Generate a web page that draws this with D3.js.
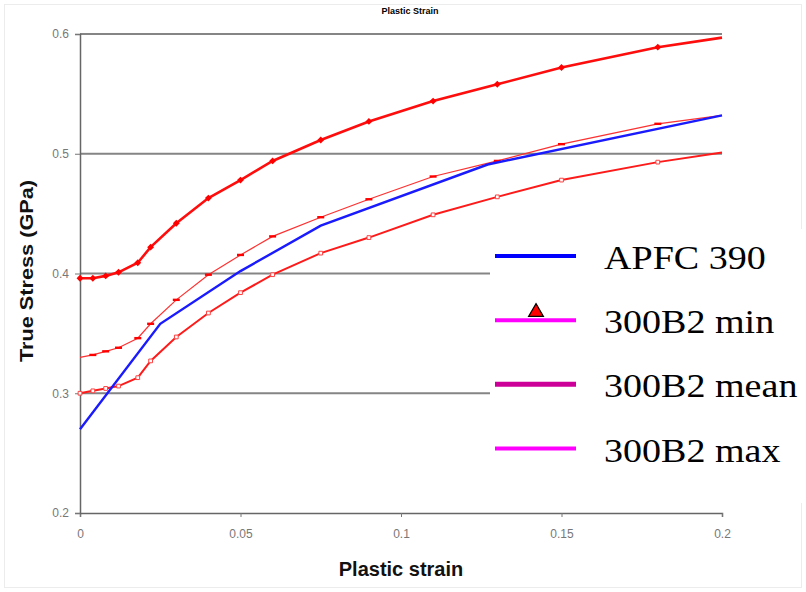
<!DOCTYPE html>
<html>
<head>
<meta charset="utf-8">
<script src="https://cdn.jsdelivr.net/npm/d3@7"></script>
<style>
  body { margin: 0; background: #fff; }
  svg { display: block; }
</style>
</head>
<body>
<div class="chart-container"></div>
<script>
// strain points shared by the three 300B2 curves
const strain = [0, 0.004, 0.008, 0.012, 0.018, 0.022, 0.03, 0.04, 0.05, 0.06, 0.075, 0.09, 0.11, 0.13, 0.15, 0.18, 0.2];
const stressMax = [0.396, 0.396, 0.398, 0.401, 0.409, 0.422, 0.442, 0.463, 0.478, 0.494, 0.5115, 0.527, 0.544, 0.558, 0.572, 0.589, 0.597];
const stressMean = [0.330, 0.332, 0.335, 0.338, 0.346, 0.358, 0.378, 0.399, 0.4155, 0.431, 0.447, 0.462, 0.481, 0.494, 0.508, 0.525, 0.532];
const stressMin = [0.300, 0.302, 0.304, 0.306, 0.313, 0.327, 0.347, 0.367, 0.384, 0.399, 0.417, 0.430, 0.449, 0.464, 0.478, 0.493, 0.501];

// APFC 390 curve
const apfcStrain = [0, 0.025, 0.05, 0.075, 0.127, 0.2];
const apfcStress = [0.27, 0.358, 0.402, 0.44, 0.491, 0.532];

const xTicks = [0, 0.05, 0.1, 0.15, 0.2];
const yTicks = [0.2, 0.3, 0.4, 0.5, 0.6];
const legendLabels = ["APFC 390", "300B2 min", "300B2 mean", "300B2 max"];
const legendColors = ["#0000ff", "#ff00ff", "#cc0099", "#ff00ff"];

const W = 806, H = 592;
const margin = { top: 34, right: 84, bottom: 79, left: 80 };
const width = W - margin.left - margin.right;
const height = H - margin.top - margin.bottom;

const root = d3.select(".chart-container")
    .append("svg")
    .attr("width", W)
    .attr("height", H);

root.append("rect")
    .attr("x", 4.5).attr("y", 4.5)
    .attr("width", W - 9).attr("height", H - 9)
    .attr("fill", "#fff")
    .attr("stroke", "#ececec");

const svg = root.append("g")
    .attr("transform", `translate(${margin.left}, ${margin.top})`);

const xScale = d3.scaleLinear().domain([0, 0.2]).range([0, width]);
const yScale = d3.scaleLinear().domain([0.2, 0.6]).range([height, 0]);

// horizontal gridlines
svg.append("g")
    .selectAll("line")
    .data(yTicks.filter(d => d > 0.2))
    .join("line")
    .attr("x1", 0)
    .attr("x2", width)
    .attr("y1", d => yScale(d))
    .attr("y2", d => yScale(d))
    .attr("stroke", "#858585")
    .attr("stroke-width", 2);

const xAxis = d3.axisBottom(xScale)
    .tickValues(xTicks)
    .tickSize(4)
    .tickPadding(12)
    .tickFormat(d => d3.format("")(d));

const yAxis = d3.axisLeft(yScale)
    .tickValues(yTicks)
    .tickSize(5)
    .tickPadding(6)
    .tickFormat(d => d3.format("")(d));

const gx = svg.append("g")
    .attr("transform", `translate(0, ${height})`)
    .call(xAxis);
const gy = svg.append("g").call(yAxis);

[gx, gy].forEach(g => {
    g.select(".domain").attr("stroke", "#666").attr("stroke-width", 1.5);
    g.selectAll(".tick line").attr("stroke", "#777");
    g.selectAll(".tick text")
        .attr("fill", "#777")
        .style("font-family", "Liberation Sans, Arial, sans-serif")
        .style("font-size", "12px");
});

const line = d3.line()
    .x(d => xScale(d[0]))
    .y(d => yScale(d[1]));

const zip = (xs, ys) => xs.map((x, i) => [x, ys[i]]);

// 300B2 curves
const redSeries = [
    { data: zip(strain, stressMin), width: 2, color: "#ff1a1a", marker: "square" },
    { data: zip(strain, stressMean), width: 1.2, color: "#ff3030", marker: "dash" },
    { data: zip(strain, stressMax), width: 2.6, color: "#ff0d0d", marker: "diamond" }
];

redSeries.forEach(s => {
    svg.append("path")
        .datum(s.data)
        .attr("d", line)
        .attr("fill", "none")
        .attr("stroke", s.color)
        .attr("stroke-width", s.width);

    const g = svg.append("g");
    if (s.marker === "diamond") {
        g.selectAll("path")
            .data(s.data.slice(0, -1))
            .join("path")
            .attr("transform", d => `translate(${xScale(d[0])}, ${yScale(d[1])})`)
            .attr("d", d3.symbol(d3.symbolDiamond2, 30))
            .attr("fill", "#ff0000");
    } else if (s.marker === "dash") {
        g.selectAll("rect")
            .data(s.data.slice(1, -1))
            .join("rect")
            .attr("x", d => xScale(d[0]) - 3.5)
            .attr("y", d => yScale(d[1]) - 1.2)
            .attr("width", 7)
            .attr("height", 2.4)
            .attr("fill", "#ff0000");
    } else {
        g.selectAll("path")
            .data(s.data.slice(0, -1))
            .join("path")
            .attr("transform", d => `translate(${xScale(d[0])}, ${yScale(d[1])})`)
            .attr("d", d3.symbol(d3.symbolSquare, 14))
            .attr("fill", "#fff")
            .attr("stroke", "#ff4040")
            .attr("stroke-width", 1);
    }
});

// APFC 390
svg.append("path")
    .datum(zip(apfcStrain, apfcStress))
    .attr("d", line)
    .attr("fill", "none")
    .attr("stroke", "#1a1aff")
    .attr("stroke-width", 2.4);

// small chart title
root.append("text")
    .attr("x", 410)
    .attr("y", 14)
    .attr("text-anchor", "middle")
    .style("font-family", "Liberation Sans, Arial, sans-serif")
    .style("font-weight", "bold")
    .style("font-size", "9px")
    .text("Plastic Strain");

// axis titles
root.append("text")
    .attr("x", 401)
    .attr("y", 576)
    .attr("text-anchor", "middle")
    .style("font-family", "Liberation Sans, Arial, sans-serif")
    .style("font-weight", "bold")
    .style("font-size", "20px")
    .attr("fill", "#111")
    .text("Plastic strain");

root.append("text")
    .attr("transform", "translate(33, 271) rotate(-90)")
    .attr("text-anchor", "middle")
    .attr("textLength", 182)
    .attr("lengthAdjust", "spacingAndGlyphs")
    .style("font-family", "Liberation Sans, Arial, sans-serif")
    .style("font-weight", "bold")
    .style("font-size", "19px")
    .attr("fill", "#111")
    .text("True Stress (GPa)");

// legend box
const legend = root.append("g");
legend.append("rect")
    .attr("x", 490).attr("y", 229)
    .attr("width", 316).attr("height", 274)
    .attr("fill", "#fff");

const legendY = d3.scalePoint().domain(legendLabels).range([256, 448.5]);

legend.selectAll("line")
    .data(legendLabels)
    .join("line")
    .attr("x1", 495)
    .attr("x2", 576)
    .attr("y1", d => legendY(d))
    .attr("y2", d => legendY(d))
    .attr("stroke", (d, i) => legendColors[i])
    .attr("stroke-width", (d, i) => i === 2 ? 5 : 4);

legend.append("path")
    .attr("transform", `translate(536, ${legendY("300B2 min") - 8})`)
    .attr("d", d3.symbol(d3.symbolTriangle, 95))
    .attr("fill", "#ff0000")
    .attr("stroke", "#000")
    .attr("stroke-width", 1.2);

legend.selectAll("text")
    .data(legendLabels)
    .join("text")
    .attr("transform", d => `translate(604, ${legendY(d) + 13}) scale(1.12, 1)`)
    .style("font-family", "Liberation Serif, Times New Roman, serif")
    .style("font-size", "34px")
    .attr("fill", "#000")
    .text(d => d);
</script>
</body>
</html>
